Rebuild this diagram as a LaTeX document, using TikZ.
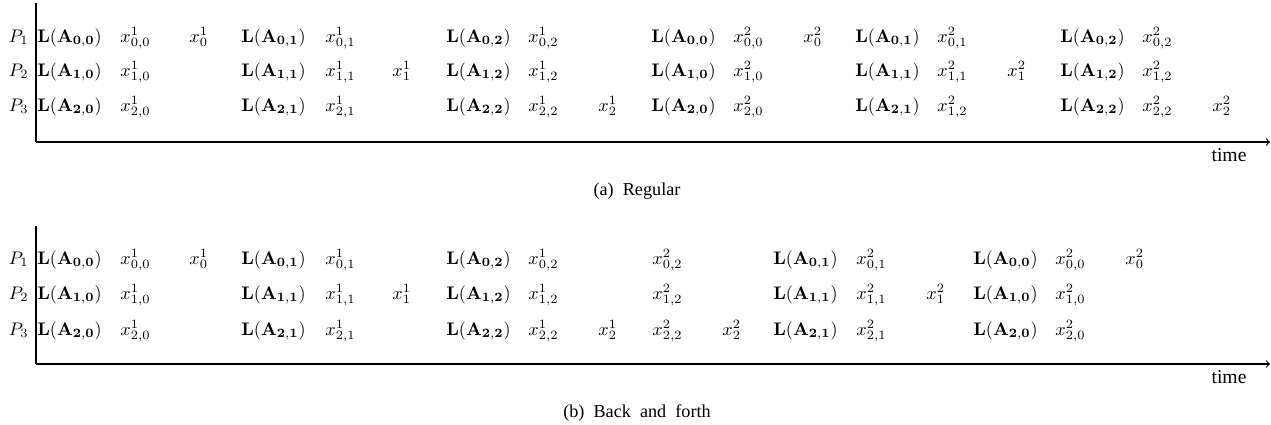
\documentclass[tikz,border=0pt]{standalone}
\usepackage[no-math]{fontspec}
\setmainfont{Liberation Serif}
\newcommand\LAm[2]{$\mathbf{L}(\mathbf{A}_{\mathbf{#1,#2}})$}
\newcommand\Xm[3]{$x^{#3}_{#1,#2}$}
\newcommand\Xs[2]{$x^{#2}_{#1}$}
\tikzset{
  cell/.style={anchor=base west, inner sep=0pt, font=\fontsize{10}{12}\selectfont},
  plab/.style={anchor=base east, inner sep=0pt, font=\fontsize{10}{12}\selectfont},
  axis/.style={line width=0.6pt, black},
  captext/.style={anchor=base, inner sep=0pt, font=\fontsize{10}{12}\selectfont},
  timetext/.style={anchor=base, inner sep=0pt, font=\fontsize{10.8}{12}\selectfont},
}
\begin{document}
\begin{tikzpicture}[x=0.55pt,y=-0.55pt]
\useasboundingbox (0,0) rectangle (1271,424);
% ---------- panel (a) ----------
\coordinate (ta) at (36,3);
\coordinate (oa) at (36,142);
\coordinate (ea) at (1270,142);
\draw[axis] (ta) -- (oa);
\draw[axis,->] (oa) -- (ea);
\node[plab] (ap1) at (29,42) {$P_1$};
\node[plab] (ap2) at (29,76) {$P_2$};
\node[plab] (ap3) at (29,111) {$P_3$};
% row 1
\node[cell] (a1a) at (37,42) {\LAm{0}{0}};
\node[cell] (a1b) at (120,42) {\Xm{0}{0}{1}};
\node[cell] (a1c) at (189,42) {\Xs{0}{1}};
\node[cell] (a1d) at (241,42) {\LAm{0}{1}};
\node[cell] (a1e) at (325,42) {\Xm{0}{1}{1}};
\node[cell] (a1f) at (446,42) {\LAm{0}{2}};
\node[cell] (a1g) at (528,42) {\Xm{0}{2}{1}};
\node[cell] (a1h) at (651,42) {\LAm{0}{0}};
\node[cell] (a1i) at (733,42) {\Xm{0}{0}{2}};
\node[cell] (a1j) at (803,42) {\Xs{0}{2}};
\node[cell] (a1k) at (855,42) {\LAm{0}{1}};
\node[cell] (a1l) at (937,42) {\Xm{0}{1}{2}};
\node[cell] (a1m) at (1060,42) {\LAm{0}{2}};
\node[cell] (a1n) at (1142,42) {\Xm{0}{2}{2}};
% row 2
\node[cell] (a2a) at (37,76) {\LAm{1}{0}};
\node[cell] (a2b) at (120,76) {\Xm{1}{0}{1}};
\node[cell] (a2d) at (241,76) {\LAm{1}{1}};
\node[cell] (a2e) at (325,76) {\Xm{1}{1}{1}};
\node[cell] (a2x) at (392,76) {\Xs{1}{1}};
\node[cell] (a2f) at (446,76) {\LAm{1}{2}};
\node[cell] (a2g) at (528,76) {\Xm{1}{2}{1}};
\node[cell] (a2h) at (651,76) {\LAm{1}{0}};
\node[cell] (a2i) at (733,76) {\Xm{1}{0}{2}};
\node[cell] (a2k) at (855,76) {\LAm{1}{1}};
\node[cell] (a2l) at (937,76) {\Xm{1}{1}{2}};
\node[cell] (a2y) at (1007,76) {\Xs{1}{2}};
\node[cell] (a2m) at (1060,76) {\LAm{1}{2}};
\node[cell] (a2n) at (1142,76) {\Xm{1}{2}{2}};
% row 3
\node[cell] (a3a) at (37,111) {\LAm{2}{0}};
\node[cell] (a3b) at (120,111) {\Xm{2}{0}{1}};
\node[cell] (a3d) at (241,111) {\LAm{2}{1}};
\node[cell] (a3e) at (325,111) {\Xm{2}{1}{1}};
\node[cell] (a3f) at (446,111) {\LAm{2}{2}};
\node[cell] (a3g) at (528,111) {\Xm{2}{2}{1}};
\node[cell] (a3x) at (598,111) {\Xs{2}{1}};
\node[cell] (a3h) at (651,111) {\LAm{2}{0}};
\node[cell] (a3i) at (733,111) {\Xm{2}{0}{2}};
\node[cell] (a3k) at (855,111) {\LAm{2}{1}};
\node[cell] (a3l) at (937,111) {\Xm{1}{2}{2}};
\node[cell] (a3m) at (1060,111) {\LAm{2}{2}};
\node[cell] (a3n) at (1142,111) {\Xm{2}{2}{2}};
\node[cell] (a3y) at (1212,111) {\Xs{2}{2}};
\node[timetext] (timea) at (1229,161) {time};
\node[captext] (capa) at (637,195) {(a)\ \ Regular};
% ---------- panel (b) ----------
\coordinate (tb) at (36,226);
\coordinate (ob) at (36,364);
\coordinate (eb) at (1270,364);
\draw[axis] (tb) -- (ob);
\draw[axis,->] (ob) -- (eb);
\node[plab] (bp1) at (29,264) {$P_1$};
\node[plab] (bp2) at (29,299) {$P_2$};
\node[plab] (bp3) at (29,335) {$P_3$};
% row 1
\node[cell] (b1a) at (37,264) {\LAm{0}{0}};
\node[cell] (b1b) at (120,264) {\Xm{0}{0}{1}};
\node[cell] (b1c) at (189,264) {\Xs{0}{1}};
\node[cell] (b1d) at (241,264) {\LAm{0}{1}};
\node[cell] (b1e) at (325,264) {\Xm{0}{1}{1}};
\node[cell] (b1f) at (446,264) {\LAm{0}{2}};
\node[cell] (b1g) at (528,264) {\Xm{0}{2}{1}};
\node[cell] (b1h) at (652,264) {\Xm{0}{2}{2}};
\node[cell] (b1k) at (773,264) {\LAm{0}{1}};
\node[cell] (b1l) at (856,264) {\Xm{0}{1}{2}};
\node[cell] (b1m) at (973,264) {\LAm{0}{0}};
\node[cell] (b1n) at (1055,264) {\Xm{0}{0}{2}};
\node[cell] (b1o) at (1125,264) {\Xs{0}{2}};
% row 2
\node[cell] (b2a) at (37,299) {\LAm{1}{0}};
\node[cell] (b2b) at (120,299) {\Xm{1}{0}{1}};
\node[cell] (b2d) at (241,299) {\LAm{1}{1}};
\node[cell] (b2e) at (325,299) {\Xm{1}{1}{1}};
\node[cell] (b2x) at (392,299) {\Xs{1}{1}};
\node[cell] (b2f) at (446,299) {\LAm{1}{2}};
\node[cell] (b2g) at (528,299) {\Xm{1}{2}{1}};
\node[cell] (b2h) at (652,299) {\Xm{1}{2}{2}};
\node[cell] (b2k) at (773,299) {\LAm{1}{1}};
\node[cell] (b2l) at (856,299) {\Xm{1}{1}{2}};
\node[cell] (b2y) at (926,299) {\Xs{1}{2}};
\node[cell] (b2m) at (973,299) {\LAm{1}{0}};
\node[cell] (b2n) at (1055,299) {\Xm{1}{0}{2}};
% row 3
\node[cell] (b3a) at (37,335) {\LAm{2}{0}};
\node[cell] (b3b) at (120,335) {\Xm{2}{0}{1}};
\node[cell] (b3d) at (241,335) {\LAm{2}{1}};
\node[cell] (b3e) at (325,335) {\Xm{2}{1}{1}};
\node[cell] (b3f) at (446,335) {\LAm{2}{2}};
\node[cell] (b3g) at (528,335) {\Xm{2}{2}{1}};
\node[cell] (b3x) at (598,335) {\Xs{2}{1}};
\node[cell] (b3h) at (652,335) {\Xm{2}{2}{2}};
\node[cell] (b3y) at (722,335) {\Xs{2}{2}};
\node[cell] (b3k) at (773,335) {\LAm{2}{1}};
\node[cell] (b3l) at (856,335) {\Xm{2}{1}{2}};
\node[cell] (b3m) at (973,335) {\LAm{2}{0}};
\node[cell] (b3n) at (1055,335) {\Xm{2}{0}{2}};
\node[timetext] (timeb) at (1229,383) {time};
\node[captext] (capb) at (637,417) {(b)\ \ Back\ \ and\ \ forth};
\end{tikzpicture}
\end{document}
